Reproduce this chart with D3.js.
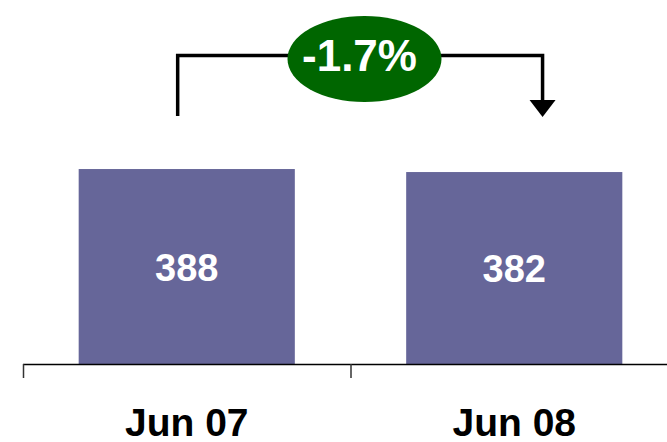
<!DOCTYPE html>
<html>
<head>
<meta charset="utf-8">
<script src="https://cdn.jsdelivr.net/npm/d3@7"></script>
<style>
  html, body { margin: 0; padding: 0; background: #ffffff; }
  svg { display: block; }
</style>
</head>
<body>
<svg id="chart" width="667" height="442"></svg>
<script>
// Period labels and headcount values
const categories = ["Jun 07", "Jun 08"];
const values = [388, 382];
// Year-on-year change shown in the callout
const changeLabel = "-1.7%";

const W = 667, H = 442;
const svg = d3.select("#chart");
const font = "'Liberation Sans', Arial, Helvetica, sans-serif";

const baseY = 364;

// Category scale for the bars and a padding-free twin for the boundary ticks
const x = d3.scaleBand().domain(categories).range([23, 678])
  .paddingInner(0.34).paddingOuter(0.17);
const xCell = d3.scaleBand().domain(categories).range([23, 678]).padding(0);

const y = d3.scaleLinear().domain([0, 400]).range([baseY, 163]);

// Bars
svg.append("g").selectAll("rect")
  .data(values)
  .join("rect")
  .attr("x", (d, i) => x(categories[i]))
  .attr("y", d => y(d))
  .attr("width", x.bandwidth())
  .attr("height", d => y(0) - y(d))
  .attr("fill", "#666699");

// Value labels inside bars
svg.append("g").selectAll("text")
  .data(values)
  .join("text")
  .attr("x", (d, i) => x(categories[i]) + x.bandwidth() / 2)
  .attr("y", d => (y(d) + y(0)) / 2 + 14)
  .attr("text-anchor", "middle")
  .attr("font-family", font)
  .attr("font-weight", "bold")
  .attr("font-size", 38)
  .attr("fill", "#ffffff")
  .text(d => d);

// Category axis: baseline with ticks at the cell boundaries
const axis = svg.append("g");
axis.append("line")
  .attr("x1", xCell(categories[0])).attr("x2", W)
  .attr("y1", baseY + 0.5).attr("y2", baseY + 0.5)
  .attr("stroke", "#000").attr("stroke-width", 1.5);
axis.selectAll("line.tick")
  .data(categories)
  .join("line")
  .attr("class", "tick")
  .attr("x1", d => xCell(d) + 0.5).attr("x2", d => xCell(d) + 0.5)
  .attr("y1", baseY).attr("y2", baseY + 14)
  .attr("stroke", "#333").attr("stroke-width", 1.5);
axis.selectAll("text")
  .data(categories)
  .join("text")
  .attr("x", d => xCell(d) + xCell.bandwidth() / 2)
  .attr("y", 436)
  .attr("text-anchor", "middle")
  .attr("font-family", font)
  .attr("font-weight", "bold")
  .attr("font-size", 39)
  .attr("fill", "#000")
  .text(d => d);

// Change bracket from the first bar to the second
const leftX = x(categories[0]) + x.bandwidth() * 0.458;
const rightX = x(categories[1]) + x.bandwidth() * 0.631;
const topY = 55.5;
const startY = 116;
const headBase = 100, headTip = 117, headHalf = 13;

svg.append("path")
  .attr("d", d3.line()([[leftX, startY], [leftX, topY], [rightX, topY], [rightX, headBase + 1]]))
  .attr("fill", "none")
  .attr("stroke", "#000")
  .attr("stroke-width", 3.5);

svg.append("path")
  .attr("d", d3.line()([[rightX - headHalf, headBase], [rightX + headHalf, headBase], [rightX, headTip]]) + "Z")
  .attr("fill", "#000");

// Callout badge
const cx = 364.5, cy = 59;
svg.append("ellipse")
  .attr("cx", cx).attr("cy", cy)
  .attr("rx", 77).attr("ry", 43)
  .attr("fill", "#006600");

svg.append("text")
  .attr("x", cx - 5)
  .attr("y", 71)
  .attr("text-anchor", "middle")
  .attr("font-family", font)
  .attr("font-weight", "bold")
  .attr("font-size", 44)
  .attr("fill", "#ffffff")
  .text(changeLabel);
</script>
</body>
</html>
